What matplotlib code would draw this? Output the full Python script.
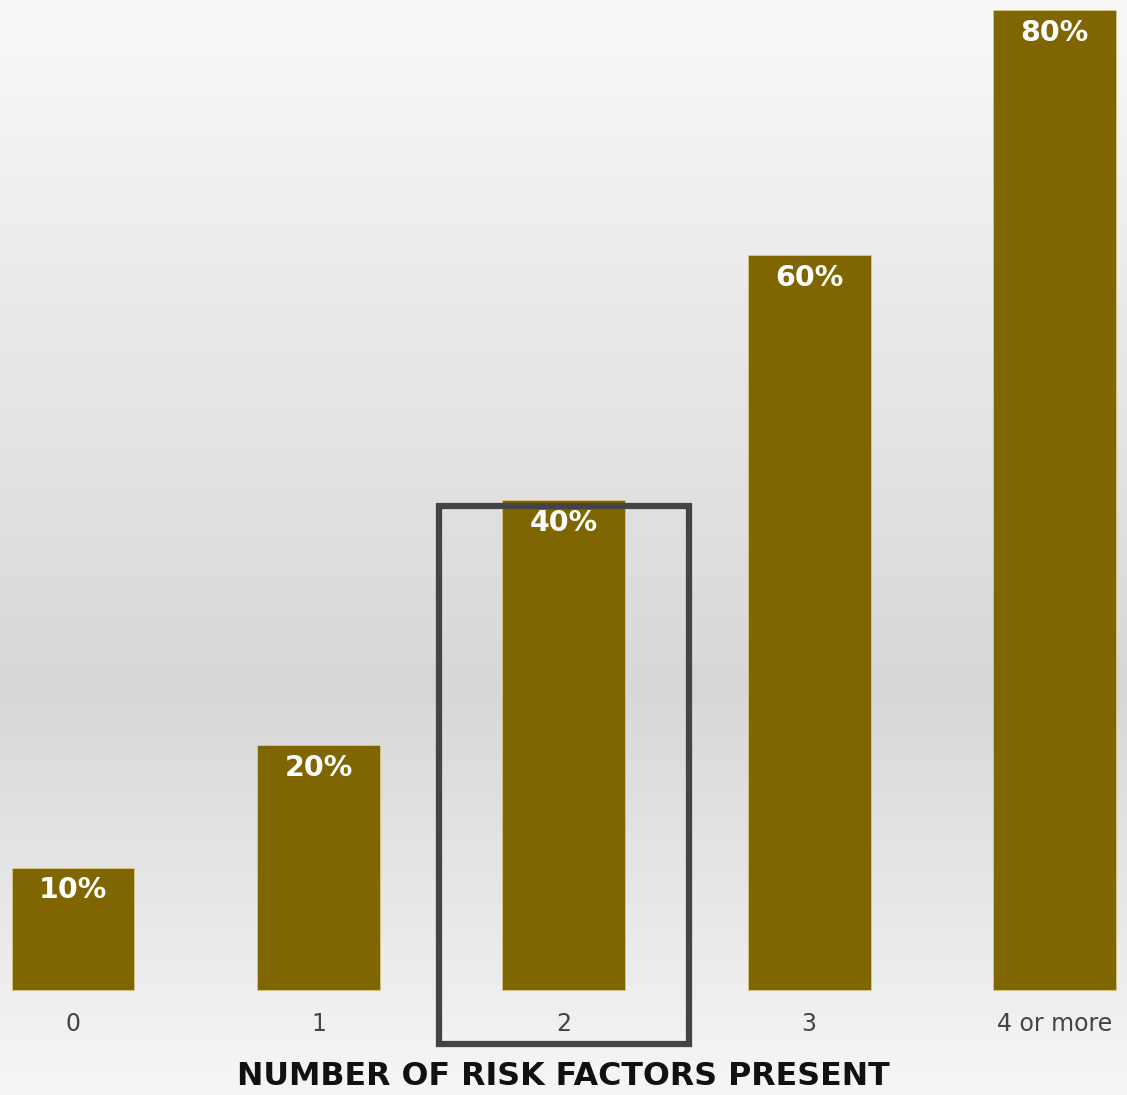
import matplotlib.pyplot as plt
import matplotlib.patches as patches
import numpy as np

# risk factors vs. percentage
categories = ['0', '1', '2', '3', '4 or more']
percent = [10, 20, 40, 60, 80]
highlight = 2  # index of the boxed bar

bar_color = '#806600'
font = 'DejaVu Sans'

fig = plt.figure(figsize=(11.27, 10.95), dpi=100)

# background: light grey vertical gradient, darkest a bit below the middle
bg = fig.add_axes([0, 0, 1, 1])
stops_y = [0.0, 0.63, 1.0]
stops_c = [0.975, 0.845, 0.965]
yy = np.linspace(0, 1, 400)
shade = np.interp(yy, stops_y, stops_c)
grad = np.repeat(shade[:, None], 2, axis=1)
bg.imshow(np.dstack([grad, grad, grad]), aspect='auto', extent=[0, 1, 1, 0])
bg.axis('off')

ax = fig.add_axes([0, 0, 1, 1])
ax.patch.set_alpha(0)
x = np.arange(len(categories))
ax.bar(x, percent, width=0.5, color=bar_color, edgecolor='#d8c88c', linewidth=0.6, zorder=2)

# 12.25 px per percent, baseline 105 px from bottom
ax.set_xlim(-73 / 245.4, (1127 - 73) / 245.4)
ax.set_ylim(-105 / 12.25, 990 / 12.25)
ax.axis('off')

for xi, p in zip(x, percent):
    ax.text(xi, p - 1.85, f'{p}%', ha='center', va='center', color='white',
            fontsize=20.5, fontweight='bold', family=font, zorder=4)

for xi, c in zip(x, categories):
    ax.text(xi, -2.8, c, ha='center', va='center', color='#444444',
            fontsize=17, family=font, zorder=4)

ax.text(2.0, -7.1, 'NUMBER OF RISK FACTORS PRESENT', ha='center', va='center',
        color='#111111', fontsize=22.8, fontweight='bold', family=font)

# box around the highlighted bar
box = patches.Rectangle((highlight - 0.51, -4.37), 1.02, 39.47 + 4.37,
                        fill=False, edgecolor='#444444', linewidth=4.5, zorder=3)
ax.add_patch(box)

fig.savefig('out.png', dpi=100)
